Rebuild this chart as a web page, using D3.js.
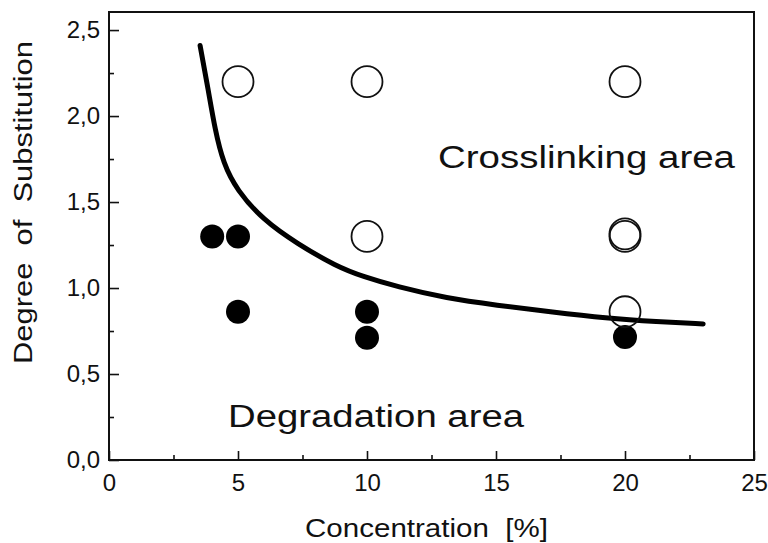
<!DOCTYPE html>
<html>
<head>
    <meta charset="utf-8">
    <style>
        body { margin: 0; background: #fff; }
        text { font-family: "Liberation Sans", Arial, sans-serif; fill: #111; }
    </style>
</head>
<body>
    <svg width="768" height="543"></svg>
    <script src="https://d3js.org/d3.v7.min.js"></script>
    <script>
        // open circles: crosslinking observed
        let openX = [5, 10, 20, 10, 20, 20, 20];
        let openY = [2.2, 2.2, 2.2, 1.3, 1.3, 1.315, 0.862];
        // filled circles: degradation observed
        let filledX = [4, 5, 5, 10, 10, 20];
        let filledY = [1.3, 1.3, 0.862, 0.862, 0.711, 0.715];
        // boundary curve
        let curveX = [3.53, 3.85, 4.11, 4.43, 4.95, 5.98, 7.27, 8.83, 9.86, 11.15, 13.09, 15.03, 17.09, 19.29, 21.23, 23.03];
        let curveY = [2.41, 2.15, 1.92, 1.725, 1.57, 1.395, 1.26, 1.124, 1.066, 1.008, 0.94, 0.90, 0.862, 0.824, 0.804, 0.791];
        let xTicks = [0, 5, 10, 15, 20, 25];
        let yTicks = [0, 0.5, 1, 1.5, 2, 2.5];

        let svg = d3.select("svg");
        let mLeft = 109, mRight = 754, mTop = 12, mBottom = 460;
        let x = d3.scaleLinear().domain([0, 25]).range([mLeft, mRight]);
        let y = d3.scaleLinear().domain([0, 2.605]).range([mBottom, mTop]);
        let fmt = d => d3.format(".1f")(d).replace(".", ",");

        // frame
        svg.append("rect")
            .attr("x", mLeft).attr("y", mTop)
            .attr("width", mRight - mLeft).attr("height", mBottom - mTop)
            .attr("fill", "none").attr("stroke", "#111").attr("stroke-width", 2);

        // axes, ticks pointing inward
        let xAxis = svg.append("g").attr("transform", `translate(0,${mBottom})`)
            .call(d3.axisBottom(x).tickValues(xTicks).tickSize(-9).tickFormat(d3.format("d")));
        svg.append("g").attr("transform", `translate(0,${mBottom})`)
            .call(d3.axisBottom(x).tickValues(d3.range(2.5, 25, 5)).tickSize(-5).tickFormat(""));
        let yAxis = svg.append("g").attr("transform", `translate(${mLeft},0)`)
            .call(d3.axisLeft(y).tickValues(yTicks).tickSize(-10).tickFormat(fmt));
        svg.append("g").attr("transform", `translate(${mLeft},0)`)
            .call(d3.axisLeft(y).tickValues(d3.range(0.25, 2.6, 0.5)).tickSize(-5).tickFormat(""));
        svg.selectAll(".domain").remove();
        svg.selectAll(".tick line").attr("stroke", "#111").attr("stroke-width", 1.6);
        svg.selectAll(".tick text").style("font-family", "Liberation Sans, Arial, sans-serif")
            .style("font-size", "24px").attr("fill", "#111");
        xAxis.selectAll(".tick text").attr("dy", "0.71em").attr("y", 14);
        yAxis.selectAll(".tick text").attr("x", -9);

        // boundary curve
        let line = d3.line().x(d => x(d[0])).y(d => y(d[1])).curve(d3.curveBasis);
        svg.append("path")
            .datum(d3.zip(curveX, curveY))
            .attr("d", line)
            .attr("fill", "none").attr("stroke", "#000")
            .attr("stroke-width", 5).attr("stroke-linecap", "round");

        svg.selectAll(".filled")
            .data(d3.zip(filledX, filledY))
            .enter().append("circle")
            .attr("class", "filled")
            .attr("cx", d => x(d[0])).attr("cy", d => y(d[1]))
            .attr("r", 12).attr("fill", "#000");

        svg.selectAll(".open")
            .data(d3.zip(openX, openY))
            .enter().append("circle")
            .attr("class", "open")
            .attr("cx", d => x(d[0])).attr("cy", d => y(d[1]))
            .attr("r", 15.5).attr("fill", "none")
            .attr("stroke", "#111").attr("stroke-width", 1.8);

        // labels
        svg.append("text").attr("x", 438).attr("y", 168)
            .attr("textLength", 297).attr("lengthAdjust", "spacingAndGlyphs")
            .style("font-size", "31px").text("Crosslinking area");
        svg.append("text").attr("x", 228).attr("y", 427)
            .attr("textLength", 296).attr("lengthAdjust", "spacingAndGlyphs")
            .style("font-size", "31px").text("Degradation area");
        svg.append("text").attr("x", 305).attr("y", 537)
            .attr("textLength", 243).attr("lengthAdjust", "spacingAndGlyphs")
            .style("white-space", "pre")
            .style("font-size", "26px").text("Concentration  [%]");
        svg.append("text").attr("transform", "translate(32,364) rotate(-90)")
            .attr("textLength", 323).attr("lengthAdjust", "spacingAndGlyphs")
            .style("white-space", "pre")
            .style("font-size", "26px").text("Degree  of  Substitution");
    </script>
</body>
</html>
